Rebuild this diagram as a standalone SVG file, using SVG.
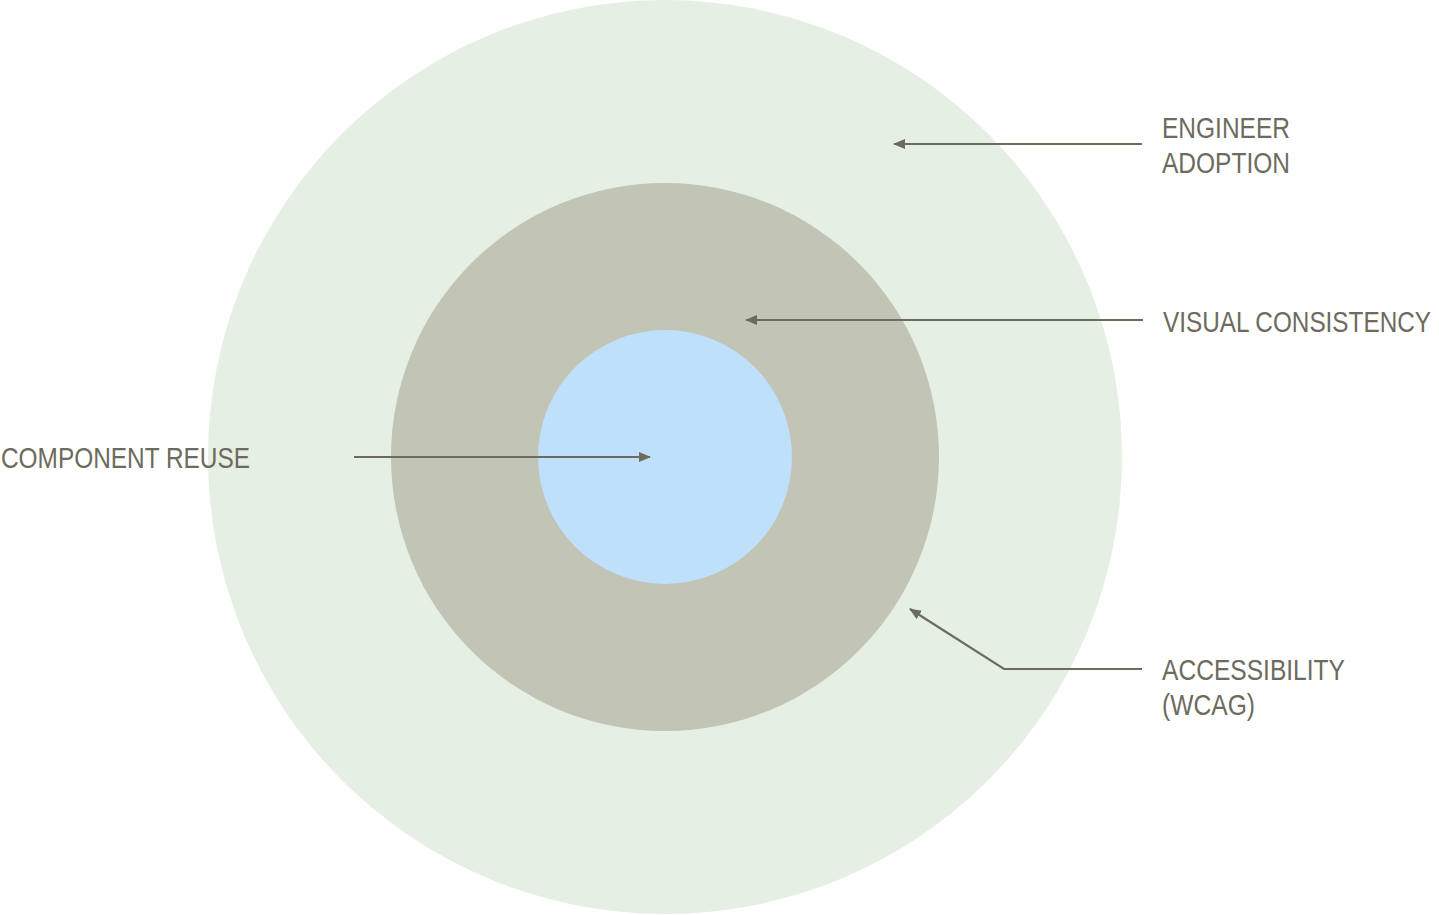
<svg xmlns="http://www.w3.org/2000/svg" width="1439" height="915" viewBox="0 0 1439 915">
<style>
.lbl{font-family:"Liberation Sans",Arial,sans-serif;font-size:29px;fill:#6c6b5d}
.lbl-s{font-family:"Liberation Sans",Arial,sans-serif;font-size:24.5px;fill:#6c6b5d}
.con{fill:none;stroke:#6c6b5d;stroke-width:2.2}
</style>
<defs>
<marker id="ah" viewBox="0 0 12 10" refX="11" refY="5" markerWidth="12" markerHeight="10" markerUnits="userSpaceOnUse" orient="auto">
<path d="M0,0 L12,5 L0,10 Z" fill="#6c6b5d"/>
</marker>
</defs>
<rect width="1439" height="915" fill="#ffffff"/>
<g id="outer"><circle cx="665" cy="457" r="457" fill="#e6efe4"/></g>
<g id="middle"><circle cx="665" cy="457" r="274" fill="#c2c4b6"/></g>
<g id="inner"><circle cx="665" cy="457" r="127" fill="#bfe0fb"/></g>
<g id="connectors">
<path class="con" d="M1142,144 L894,144" marker-end="url(#ah)"/>
<path class="con" d="M1143,320 L746,320" marker-end="url(#ah)"/>
<path class="con" d="M354,457 L650,457" marker-end="url(#ah)"/>
<path class="con" d="M1142,669 L1004,669 L910,609" marker-end="url(#ah)"/>
</g>
<g id="label-engineer">
<text class="lbl" x="1162" y="138" textLength="128" lengthAdjust="spacingAndGlyphs">ENGINEER</text>
<text class="lbl" x="1162" y="173" textLength="128" lengthAdjust="spacingAndGlyphs">ADOPTION</text>
</g>
<g id="label-visual">
<text class="lbl-s" transform="translate(1163,332) scale(1,1.184)" x="0" y="0" textLength="268" lengthAdjust="spacingAndGlyphs">VISUAL CONSISTENCY</text>
</g>
<g id="label-component">
<text class="lbl" x="1" y="468" textLength="249" lengthAdjust="spacingAndGlyphs">COMPONENT REUSE</text>
</g>
<g id="label-accessibility">
<text class="lbl" x="1162" y="680" textLength="183" lengthAdjust="spacingAndGlyphs">ACCESSIBILITY</text>
<text class="lbl" x="1162" y="715" textLength="93" lengthAdjust="spacingAndGlyphs">(WCAG)</text>
</g>
</svg>
